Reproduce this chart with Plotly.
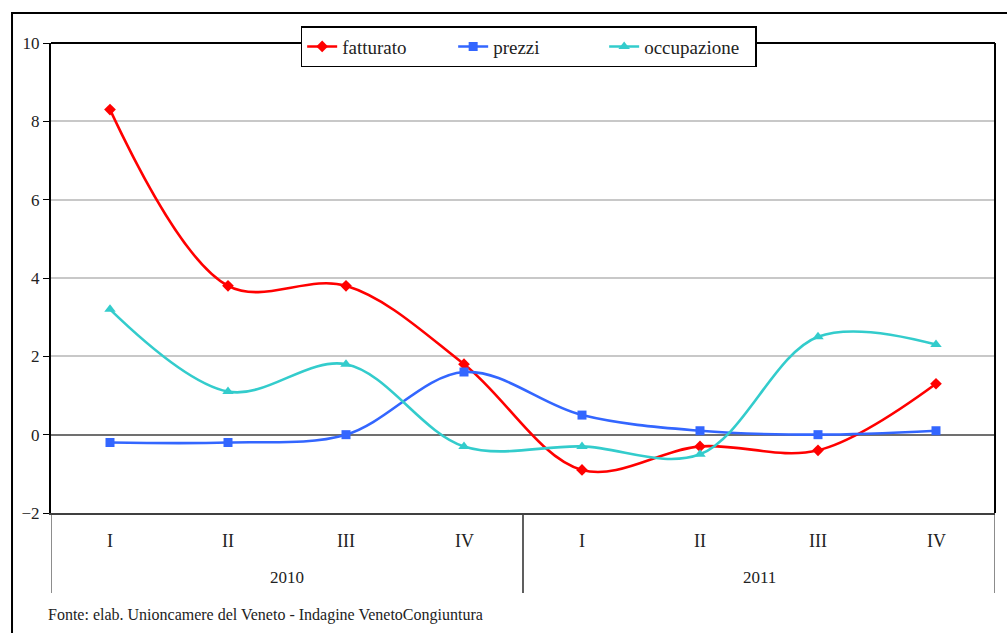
import plotly.graph_objects as go

# Quarterly survey indicators (% change), 2010-2011
years = ["2010"] * 4 + ["2011"] * 4
quarters = ["I", "II", "III", "IV", "I", "II", "III", "IV"]
fatturato = [8.3, 3.8, 3.8, 1.8, -0.9, -0.3, -0.4, 1.3]
prezzi = [-0.2, -0.2, 0.0, 1.6, 0.5, 0.1, 0.0, 0.1]
occupazione = [3.2, 1.1, 1.8, -0.3, -0.3, -0.5, 2.5, 2.3]
y_ticks = [-2, 0, 2, 4, 6, 8, 10]

FONT = "Liberation Serif, Times New Roman, DejaVu Serif, serif"
TXT = "#222222"
x = [years, quarters]
n = len(quarters)

fig = go.Figure()
series = [
    ("fatturato", fatturato, "#FF0000", "diamond", 9),
    ("prezzi", prezzi, "#3366FF", "square", 9),
    ("occupazione", occupazione, "#33CCCC", "triangle-up", 10),
]
for name, vals, color, symbol, size in series:
    fig.add_trace(go.Scatter(
        x=x, y=vals, name=name, mode="lines+markers",
        line=dict(color=color, width=2.6, shape="spline", smoothing=1.0),
        marker=dict(symbol=symbol, size=size, color=color),
    ))

fig.update_layout(
    width=1007, height=633,
    margin=dict(l=51, r=12, t=43, b=120),
    paper_bgcolor="white", plot_bgcolor="white",
    font=dict(family=FONT, size=17, color=TXT),
    showlegend=True,
    legend=dict(
        orientation="h", x=0.506, xanchor="center", y=1.036, yanchor="top",
        bgcolor="white", bordercolor="black", borderwidth=1.5,
        font=dict(family=FONT, size=19, color=TXT),
        itemwidth=30, entrywidth=106, tracegroupgap=0,
    ),
    xaxis=dict(
        type="multicategory", range=[-0.5, n - 0.5],
        showgrid=False, zeroline=False, showticklabels=False,
        showline=True, linecolor="#404040", linewidth=2,
        ticks="", showdividers=False,
    ),
    yaxis=dict(
        range=[-2, 10], tickvals=y_ticks, ticks="outside", ticklen=6,
        tickcolor="black", showline=True, linecolor="black", linewidth=2,
        showgrid=True, gridcolor="#C8C8C8", gridwidth=1.5,
        zeroline=True, zerolinecolor="#707070", zerolinewidth=1.8,
        tickfont=dict(family=FONT, size=17, color=TXT),
    ),
)

# quarter labels under each category position
for i, q in enumerate(quarters):
    fig.add_annotation(text=q, xref="x", yref="paper", x=i, y=-0.06,
                       showarrow=False, yanchor="middle",
                       font=dict(family=FONT, size=18, color=TXT))

# year group labels and their dividers
group_names = list(dict.fromkeys(years))
for g in group_names:
    idx = [i for i, y in enumerate(years) if y == g]
    fig.add_annotation(text=g, xref="x", yref="paper",
                       x=(idx[0] + idx[-1]) / 2, y=-0.138,
                       showarrow=False, yanchor="middle",
                       font=dict(family=FONT, size=17, color=TXT))
    for edge in (idx[0] - 0.5, idx[-1] + 0.5):
        fig.add_shape(type="line", xref="x", yref="paper",
                      x0=edge, x1=edge, y0=0, y1=-0.17,
                      line=dict(color="#404040", width=1.2))

# plot frame (top and right edges) and outer chart border
fig.add_shape(type="line", xref="paper", yref="paper", x0=0, x1=1, y0=1, y1=1,
              line=dict(color="black", width=2), layer="above")
fig.add_shape(type="line", xref="paper", yref="paper", x0=1, x1=1, y0=0, y1=1,
              line=dict(color="black", width=2), layer="above")
fig.add_shape(type="rect", xref="paper", yref="paper",
              x0=-0.0413, x1=1.02, y0=-0.3, y1=1.0638,
              line=dict(color="black", width=2), layer="below")

fig.add_annotation(
    text="Fonte: elab. Unioncamere del Veneto - Indagine VenetoCongiuntura",
    xref="paper", yref="paper", x=-0.0053, y=-0.218, xanchor="left", yanchor="middle",
    showarrow=False, font=dict(family=FONT, size=16, color=TXT),
)

fig.write_html("out.html")
